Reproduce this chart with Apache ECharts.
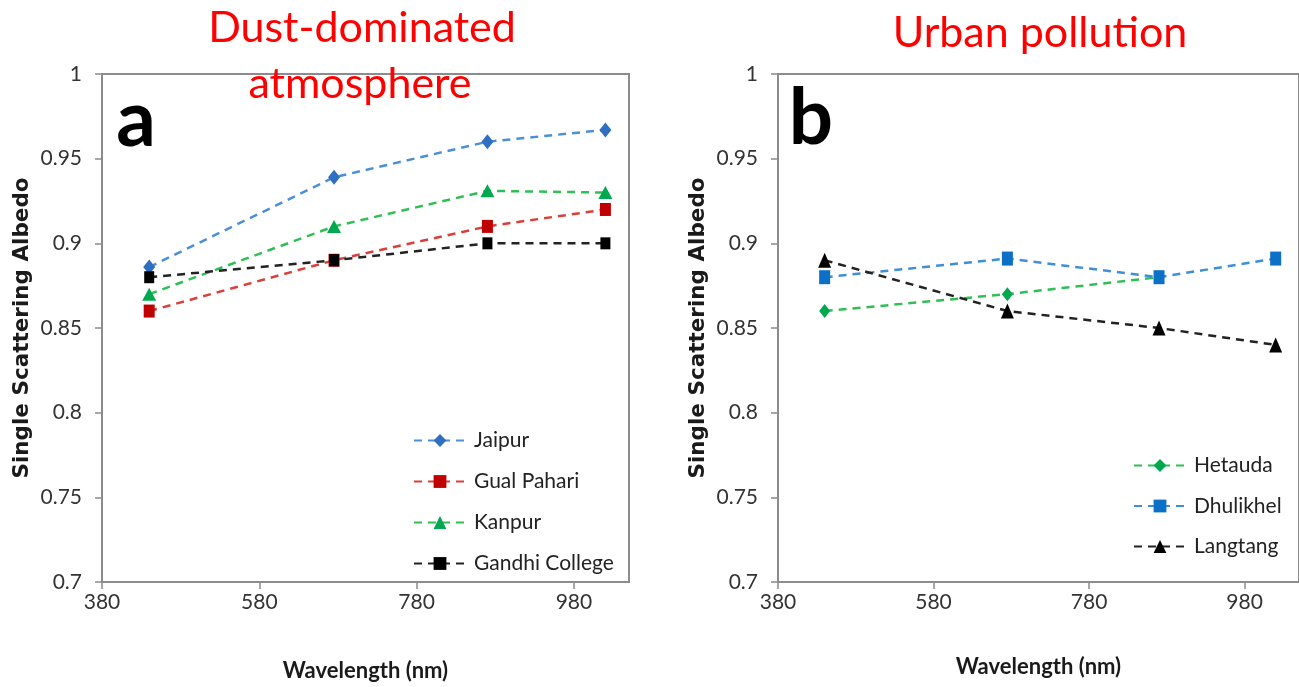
<!DOCTYPE html>
<html>
<head>
<meta charset="utf-8">
<script src="https://cdn.jsdelivr.net/npm/echarts@6/dist/echarts.min.js"></script>
<style>
  html, body { margin: 0; padding: 0; background: #ffffff; }
  #chart { width: 1299px; height: 687px; }
</style>
</head>
<body>
<div id="chart"></div>
<script>
// Wavelengths (nm) at which single scattering albedo is reported
const wavelengths = [440, 675, 870, 1020];
const xTicks = [380, 580, 780, 980];

// Panel a: dust-dominated sites
const jaipur = [0.886, 0.939, 0.960, 0.967];
const gualPahari = [0.860, 0.890, 0.910, 0.920];
const kanpur = [0.870, 0.910, 0.931, 0.930];
const gandhiCollege = [0.880, 0.890, 0.900, 0.900];

// Panel b: urban pollution sites
const hetauda = [0.860, 0.870, 0.880];
const dhulikhel = [0.880, 0.891, 0.880, 0.891];
const langtang = [0.890, 0.860, 0.850, 0.840];

const tickFont = "'Lato', sans-serif";
const axisGrey = '#8c8c8c';

function pairs(vals) {
  return vals.map((v, i) => [wavelengths[i], v]);
}

function xAxisDef(gridIndex, gap) {
  return {
    type: 'value', gridIndex, min: 380, max: 1050, interval: 200,
    name: 'Wavelength (nm)', nameLocation: 'middle', nameGap: gap,
    nameTextStyle: { fontFamily: tickFont, fontWeight: 'bold', fontSize: 22, color: '#1a1a1a' },
    axisLine: { lineStyle: { color: axisGrey, width: 2 } },
    axisTick: { show: true, length: 7, customValues: xTicks, lineStyle: { color: axisGrey, width: 1.5 } },
    axisLabel: { customValues: xTicks, fontFamily: tickFont, fontSize: 21, color: '#333', margin: 10 },
    splitLine: { show: false }
  };
}

function yAxisDef(gridIndex) {
  return {
    type: 'value', gridIndex, min: 0.7, max: 1, interval: 0.05,
    name: 'Single Scattering Albedo', nameLocation: 'middle', nameGap: 69, nameRotate: 90,
    nameTextStyle: { fontFamily: "'DejaVu Sans', sans-serif", fontWeight: 'bold', fontSize: 21.5, color: '#1a1a1a' },
    axisLine: { show: true, lineStyle: { color: axisGrey, width: 2 } },
    axisTick: { show: true, length: 7, lineStyle: { color: axisGrey, width: 1.5 } },
    axisLabel: { fontFamily: tickFont, fontSize: 21, color: '#333', margin: 20 },
    splitLine: { show: false }
  };
}

function lineSeries(name, vals, gi, lineColor, markColor, symbol, size) {
  return {
    name, type: 'line', xAxisIndex: gi, yAxisIndex: gi,
    data: pairs(vals),
    symbol, symbolSize: size,
    lineStyle: { color: lineColor, width: 2.5, type: [8, 6] },
    itemStyle: { color: markColor },
    z: 3
  };
}

const chart = echarts.init(document.getElementById('chart'), null, { renderer: 'canvas' });

chart.setOption({
  animation: false,
  backgroundColor: '#ffffff',
  grid: [
    { left: 102, top: 74, width: 527, height: 514, show: true, borderColor: axisGrey, borderWidth: 2 },
    { left: 778, top: 74, width: 525, height: 508, show: true, borderColor: axisGrey, borderWidth: 2 }
  ],
  xAxis: [xAxisDef(0, 78), xAxisDef(1, 74)],
  yAxis: [yAxisDef(0), yAxisDef(1)],
  legend: [
    {
      data: ['Jaipur', 'Gual Pahari', 'Kanpur', 'Gandhi College'],
      orient: 'vertical', left: 408, top: 425,
      itemWidth: 52, itemHeight: 16, itemGap: 20,
      textStyle: { fontFamily: tickFont, fontSize: 21, color: '#222', padding: [0, 0, 0, 3] }
    },
    {
      data: ['Hetauda', 'Dhulikhel', 'Langtang'],
      orient: 'vertical', left: 1128, top: 450,
      itemWidth: 52, itemHeight: 16, itemGap: 19.5,
      textStyle: { fontFamily: tickFont, fontSize: 21, color: '#222', padding: [0, 0, 0, 3] }
    }
  ],
  graphic: [
    { type: 'text', x: 362, y: 28, style: { text: 'Dust-dominated', fill: '#ff0000', font: "43px 'Lato', sans-serif", align: 'center', verticalAlign: 'middle' } },
    { type: 'text', x: 360, y: 84, style: { text: 'atmosphere', fill: '#ff0000', font: "43px 'Lato', sans-serif", align: 'center', verticalAlign: 'middle' } },
    { type: 'text', x: 1040, y: 33, style: { text: 'Urban pollution', fill: '#ff0000', font: "43px 'Lato', sans-serif", align: 'center', verticalAlign: 'middle' } },
    { type: 'text', x: 136, y: 121, style: { text: 'a', fill: '#000', font: "bold 78px 'Lato', sans-serif", align: 'center', verticalAlign: 'middle' } },
    { type: 'text', x: 811, y: 119, style: { text: 'b', fill: '#000', font: "bold 78px 'Lato', sans-serif", align: 'center', verticalAlign: 'middle' } }
  ],
  series: [
    lineSeries('Jaipur', jaipur, 0, '#4a90d9', '#2f6fc2', 'diamond', [12, 15]),
    lineSeries('Gual Pahari', gualPahari, 0, '#d9403a', '#c00000', 'rect', [11, 13]),
    lineSeries('Kanpur', kanpur, 0, '#2fbf55', '#00a84f', 'triangle', [14, 13]),
    lineSeries('Gandhi College', gandhiCollege, 0, '#222222', '#000000', 'rect', [10, 12]),
    lineSeries('Hetauda', hetauda, 1, '#2fbf55', '#00a84f', 'diamond', [11, 14]),
    lineSeries('Dhulikhel', dhulikhel, 1, '#3f8fd8', '#0b70c6', 'rect', [11, 14]),
    lineSeries('Langtang', langtang, 1, '#222222', '#000000', 'triangle', [13, 15])
  ]
});
</script>
</body>
</html>
